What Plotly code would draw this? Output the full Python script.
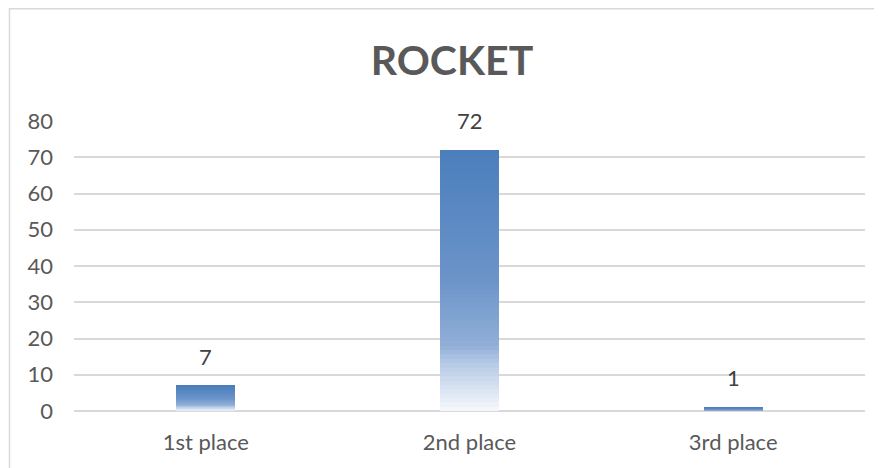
import plotly.graph_objects as go

# Chart data
categories = ['1st place', '2nd place', '3rd place']
values = [7, 72, 1]
y_ticks = [0, 10, 20, 30, 40, 50, 60, 70, 80]

# Gradient stops (position from top of bar -> rgb), top is solid blue, fades to white at the base
grad_stops = [(0.0, (74, 126, 187)), (0.5, (108, 148, 202)), (0.75, (145, 175, 215)),
              (0.82, (183, 203, 230)), (1.0, (246, 249, 252))]
n_seg = 60


def grad_color(t):
    for (p0, c0), (p1, c1) in zip(grad_stops[:-1], grad_stops[1:]):
        if p0 <= t <= p1:
            f = (t - p0) / (p1 - p0)
            return 'rgb(%d,%d,%d)' % tuple(round(a + (b - a) * f) for a, b in zip(c0, c1))
    return 'rgb(%d,%d,%d)' % grad_stops[-1][1]


fig = go.Figure()
# each bar is stacked out of thin slices so it can carry a vertical gradient
for i in range(n_seg):
    t = 1 - (i + 0.5) / n_seg
    fig.add_trace(go.Bar(x=categories, y=[v / n_seg for v in values],
                         marker=dict(color=grad_color(t), line=dict(width=0)),
                         hoverinfo='skip', showlegend=False))

for c, v in zip(categories, values):
    fig.add_annotation(x=c, y=v, text=str(v), showarrow=False, yanchor='bottom', yshift=14,
                       font=dict(family='Lato, Open Sans, sans-serif', size=22, color='#404040'))

# page body has an 8px margin, so the figure is shrunk and shifted to fit the window
off = 8
W, H = 882 - off, 468 - off
l, r, t_m, b = 74 - off, 17, 120.7 - off, 57.3
pw = W - l - r
ph = H - t_m - b

# chart frame: only the top and left edges are visible in the crop
bx0 = (9.5 - off - l) / pw
bx1 = (W + 20 - l) / pw
by1 = (H - b - (8.5 - off)) / ph
fig.add_shape(type='path', xref='paper', yref='paper',
              path='M %f,-0.5 L %f,%f L %f,%f' % (bx0, bx0, by1, bx1, by1),
              line=dict(color='#d9d9d9', width=1.5), layer='below')

fig.update_layout(
    width=W, height=H,
    barmode='stack', bargap=0.776,
    plot_bgcolor='white', paper_bgcolor='white',
    margin=dict(l=l, r=r, t=t_m, b=b),
    font=dict(family='Lato, Open Sans, sans-serif', size=22, color='#595959'),
    title=dict(text='<b>ROCKET</b>', x=(452 - 74) / pw, xref='paper', xanchor='center',
               y=1 - (61 - off) / H, yanchor='middle',
               font=dict(family='Lato, Open Sans, sans-serif', size=41, color='#595959')),
    xaxis=dict(showgrid=False, showline=False, ticks='', ticklabelstandoff=16),
    yaxis=dict(range=[0, 80], tickvals=y_ticks, showgrid=True, gridcolor='#d9d9d9', gridwidth=1.5,
               zeroline=True, zerolinecolor='#d9d9d9', zerolinewidth=1.5,
               ticks='', ticklabelstandoff=20),
)

fig.write_html('out.html')
